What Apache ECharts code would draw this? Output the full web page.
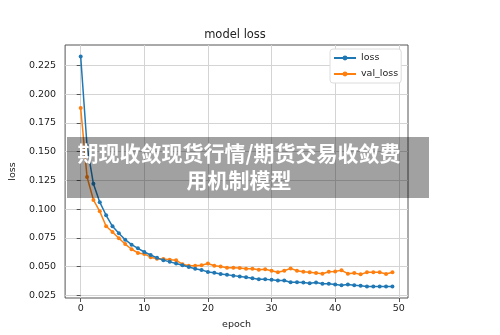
<!DOCTYPE html>
<html>
<head>
<meta charset="utf-8">
<script src="https://cdn.jsdelivr.net/npm/echarts@6/dist/echarts.min.js"></script>
<style>
  html, body { margin: 0; padding: 0; background: #fff; }
  #chart { width: 500px; height: 335px; }
</style>
</head>
<body>
<div id="chart"></div>
<script>
// 数据
var epochs = [];
for (var i = 0; i < 50; i++) epochs.push(i);

var loss = [0.233, 0.155, 0.122, 0.106, 0.0946, 0.085, 0.079, 0.0733, 0.069, 0.0658,
  0.0626, 0.060, 0.0575, 0.0555, 0.054, 0.0525, 0.051, 0.0495, 0.048, 0.047,
  0.0452, 0.0445, 0.0435, 0.0428, 0.042, 0.0413, 0.0405, 0.0397, 0.0389, 0.0389,
  0.0383, 0.0378, 0.0378, 0.0363, 0.0362, 0.036, 0.0354, 0.036, 0.0349, 0.0349,
  0.0343, 0.0337, 0.0343, 0.0337, 0.0331, 0.0326, 0.0326, 0.0326, 0.0326, 0.0325];

var valLoss = [0.188, 0.128, 0.108, 0.098, 0.085, 0.080, 0.0746, 0.0695, 0.065, 0.0618,
  0.0609, 0.0581, 0.0567, 0.0564, 0.0559, 0.0553, 0.052, 0.0506, 0.0506, 0.051,
  0.0526, 0.0506, 0.050, 0.0489, 0.0489, 0.0486, 0.048, 0.048, 0.0472, 0.0476,
  0.0463, 0.0449, 0.0463, 0.0483, 0.0463, 0.0454, 0.0449, 0.0443, 0.0437, 0.0454,
  0.0457, 0.0466, 0.0437, 0.0443, 0.0431, 0.0449, 0.0449, 0.0449, 0.0434, 0.0449];

var xTicks = [0, 10, 20, 30, 40, 50];
var yTicks = [0.025, 0.05, 0.075, 0.1, 0.125, 0.15, 0.175, 0.2, 0.225];

var bannerLines = ['期现收敛现货行情/期货交易收敛费', '用机制模型'];

function pairs(ys) {
  return epochs.map(function (x, i) { return [x, ys[i]]; });
}

var chart = echarts.init(document.getElementById('chart'));
var font = 'DejaVu Sans';
var gridColor = '#d4d4d4';

var option = {
  animation: false,
  backgroundColor: '#fff',
  title: {
    text: 'model loss',
    left: 235,
    top: 29,
    textAlign: 'center',
    padding: 0,
    textStyle: { fontFamily: font, fontSize: 11.5, fontWeight: 'normal', color: '#222' }
  },
  legend: {
    left: 330,
    top: 49,
    orient: 'vertical',
    backgroundColor: '#fff',
    borderColor: '#dcdcdc',
    borderWidth: 1,
    borderRadius: 3,
    padding: [4, 3, 4, 3],
    itemWidth: 22,
    itemHeight: 6,
    itemGap: 6,
    textStyle: { fontFamily: font, fontSize: 9.5, color: '#222', padding: [0, 0, 0, 0] },
    data: ['loss', 'val_loss']
  },
  grid: {
    left: 62,
    top: 45,
    right: 92,
    bottom: 33,
    show: true,
    borderColor: '#555',
    borderWidth: 1
  },
  xAxis: {
    type: 'value',
    min: -2.45,
    max: 51.45,
    name: 'epoch',
    nameLocation: 'middle',
    nameGap: 22,
    nameTextStyle: { fontFamily: font, fontSize: 9.5, color: '#222' },
    axisLine: { show: false },
    axisTick: { show: true, length: 4, customValues: xTicks, lineStyle: { color: '#555' } },
    axisLabel: {
      customValues: xTicks,
      margin: 6,
      fontFamily: font, fontSize: 9.5, color: '#222'
    },
    splitLine: { show: true, lineStyle: { color: gridColor, width: 1 } }
  },
  yAxis: {
    type: 'value',
    min: 0.0225,
    max: 0.243,
    name: 'loss',
    nameLocation: 'middle',
    nameRotate: 90,
    nameGap: 38,
    nameTextStyle: { fontFamily: font, fontSize: 9.5, color: '#222' },
    axisLine: { show: false },
    axisTick: { show: true, length: 4, customValues: yTicks, lineStyle: { color: '#555' } },
    axisLabel: {
      customValues: yTicks,
      margin: 9,
      fontFamily: font, fontSize: 9.5, color: '#222',
      formatter: function (v) { return v.toFixed(3); }
    },
    splitLine: { show: true, lineStyle: { color: gridColor, width: 1 } }
  },
  series: [
    {
      name: 'loss',
      type: 'line',
      data: pairs(loss),
      symbol: 'circle',
      symbolSize: 4,
      showSymbol: true,
      color: '#1f77b4',
      lineStyle: { width: 1.5 },
      z: 3
    },
    {
      name: 'val_loss',
      type: 'line',
      data: pairs(valLoss),
      symbol: 'circle',
      symbolSize: 4,
      showSymbol: true,
      color: '#ff7f0e',
      lineStyle: { width: 1.5 },
      z: 2
    }
  ],
  graphic: [
    {
      type: 'rect',
      z: 100,
      shape: { x: 67, y: 137, width: 362, height: 61 },
      style: { fill: 'rgba(0,0,0,0.37)' }
    },
    {
      type: 'text',
      z: 101,
      x: 239,
      y: 153,
      style: {
        text: bannerLines[0],
        fill: '#fff',
        font: 'bold 21px "Noto Sans CJK SC"',
        textAlign: 'center',
        textVerticalAlign: 'middle'
      }
    },
    {
      type: 'text',
      z: 101,
      x: 239,
      y: 180,
      style: {
        text: bannerLines[1],
        fill: '#fff',
        font: 'bold 21px "Noto Sans CJK SC"',
        textAlign: 'center',
        textVerticalAlign: 'middle'
      }
    }
  ]
};

chart.setOption(option);
</script>
</body>
</html>
